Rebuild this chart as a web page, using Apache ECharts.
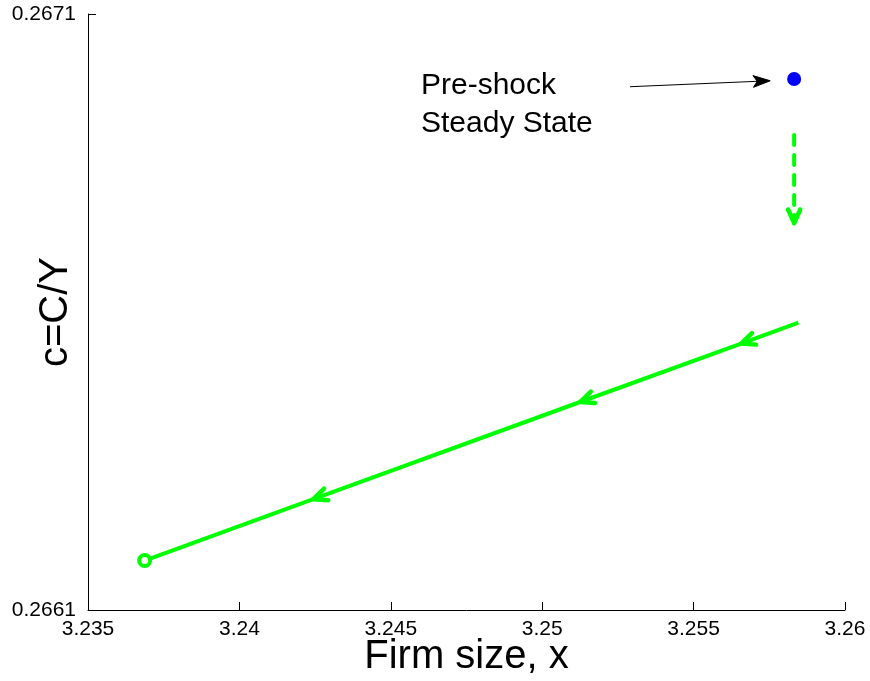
<!DOCTYPE html>
<html>
<head>
<meta charset="utf-8">
<script src="https://cdn.jsdelivr.net/npm/echarts@6/dist/echarts.min.js"></script>
<style>
  html, body { margin: 0; padding: 0; background: #fff; }
  #chart { width: 870px; height: 681px; }
</style>
</head>
<body>
<div id="chart"></div>
<script>
// Axis ticks
const xTicks = [3.235, 3.24, 3.245, 3.25, 3.255, 3.26];
const yTicks = [0.2661, 0.2671];

// Transition path of (x, c) after the shock
const pathX = [3.23687, 3.24244, 3.25125, 3.25657, 3.25846];
const pathY = [0.266183, 0.266286, 0.266449, 0.266547, 0.266582];
// Direction arrows sit on these path points (pointing back toward the start)
const arrowIdx = [1, 2, 3];

// Pre-shock steady state
const ssX = [3.25832];
const ssY = [0.266991];

// Dashed drop right after the shock
const dropX = [3.25832, 3.25832];
const dropY = [0.266897, 0.266749];

// Annotation arrow (tail, head)
const noteX = [3.25290, 3.25753];
const noteY = [0.266978, 0.266988];

const GREEN = '#00ff00';
const FONT = '"Liberation Sans", Arial, Helvetica, sans-serif';

const pathData = pathX.map((x, i) => [x, pathY[i]]);
const headRows = arrowIdx.map(i => [pathX[i + 1], pathY[i + 1], pathX[i], pathY[i]]);
headRows.push([dropX[0], dropY[0], dropX[1], dropY[1]]);

function vHead(params, api) {
  const a = api.coord([api.value(0), api.value(1)]);
  const b = api.coord([api.value(2), api.value(3)]);
  const ang = Math.atan2(a[1] - b[1], a[0] - b[0]);
  const L = 15, h = 24 * Math.PI / 180;
  const p1 = [b[0] + L * Math.cos(ang + h), b[1] + L * Math.sin(ang + h)];
  const p2 = [b[0] + L * Math.cos(ang - h), b[1] + L * Math.sin(ang - h)];
  return {
    type: 'polyline',
    shape: { points: [p1, b, p2] },
    style: { stroke: GREEN, lineWidth: 4.5, fill: null, lineJoin: 'round', lineCap: 'round' }
  };
}

function noteArrow(params, api) {
  const a = api.coord([api.value(0), api.value(1)]);
  const b = api.coord([api.value(2), api.value(3)]);
  const ang = Math.atan2(a[1] - b[1], a[0] - b[0]);
  const L = 18, h = 19 * Math.PI / 180, N = 13;
  const p1 = [b[0] + L * Math.cos(ang + h), b[1] + L * Math.sin(ang + h)];
  const p2 = [b[0] + L * Math.cos(ang - h), b[1] + L * Math.sin(ang - h)];
  const n = [b[0] + N * Math.cos(ang), b[1] + N * Math.sin(ang)];
  return {
    type: 'group',
    children: [
      { type: 'line', shape: { x1: a[0], y1: a[1], x2: n[0], y2: n[1] },
        style: { stroke: '#000', lineWidth: 1 } },
      { type: 'polygon', shape: { points: [b, p1, n, p2] },
        style: { fill: '#000', stroke: '#000', lineWidth: 1 } }
    ]
  };
}

const chart = echarts.init(document.getElementById('chart'), null, { renderer: 'canvas' });
chart.setOption({
  animation: false,
  backgroundColor: '#fff',
  grid: { left: 88, right: 25, top: 14, bottom: 71, containLabel: false, outerBoundsMode: 'none' },
  xAxis: {
    type: 'value', min: 3.235, max: 3.26, interval: 0.005,
    name: 'Firm size, x', nameLocation: 'middle', nameGap: 27, nameMoveOverlap: false,
    nameTextStyle: { fontFamily: FONT, fontSize: 40, color: '#000' },
    axisLine: { show: true, onZero: false, lineStyle: { color: '#000', width: 1 } },
    axisTick: { show: true, inside: true, length: 8, customValues: xTicks, lineStyle: { color: '#000' } },
    axisLabel: { customValues: xTicks, margin: 9, fontFamily: FONT, fontSize: 21, color: '#000',
      formatter: v => String(v) },
    splitLine: { show: false }
  },
  yAxis: {
    type: 'value', min: 0.2661, max: 0.2671,
    name: 'c=C/Y', nameLocation: 'middle', nameGap: 12, nameMoveOverlap: false,
    nameTextStyle: { fontFamily: FONT, fontSize: 40, color: '#000', padding: [0, 0, 0, 0] },
    axisLine: { show: true, onZero: false, lineStyle: { color: '#000', width: 1 } },
    axisTick: { show: true, inside: true, length: 8, customValues: yTicks, lineStyle: { color: '#000' } },
    axisLabel: { customValues: yTicks, margin: 12, fontFamily: FONT, fontSize: 21, color: '#000',
      formatter: v => String(v) },
    splitLine: { show: false }
  },
  graphic: [{
    type: 'text', left: 421, top: 67, z: 10,
    style: { text: 'Pre-shock\nSteady State', fontFamily: FONT, fontSize: 30, lineHeight: 38,
      fill: '#000' }
  }],
  series: [
    {
      type: 'line', data: pathData, symbol: 'none', z: 3,
      lineStyle: { color: GREEN, width: 4 }
    },
    {
      type: 'line', data: dropX.map((x, i) => [x, dropY[i]]), symbol: 'none', z: 3,
      lineStyle: { color: GREEN, width: 4, type: [10, 10], cap: 'round' }
    },
    {
      type: 'custom', renderItem: vHead, data: headRows, z: 4,
      encode: { x: [0, 2], y: [1, 3] }
    },
    {
      type: 'custom', renderItem: noteArrow, data: [[noteX[0], noteY[0], noteX[1], noteY[1]]], z: 4,
      encode: { x: [0, 2], y: [1, 3] }
    },
    {
      type: 'scatter', data: [[pathX[0], pathY[0]]], symbol: 'circle', symbolSize: 11, z: 5,
      itemStyle: { color: '#fff', borderColor: GREEN, borderWidth: 4, opacity: 1 }
    },
    {
      type: 'scatter', data: ssX.map((x, i) => [x, ssY[i]]), symbol: 'circle', symbolSize: 14, z: 5,
      itemStyle: { color: '#0000ff', opacity: 1 }
    }
  ]
});
</script>
</body>
</html>
